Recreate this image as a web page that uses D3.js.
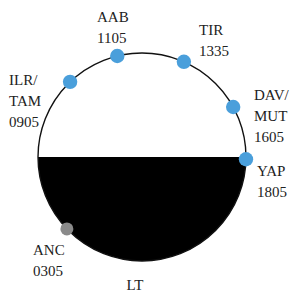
<!DOCTYPE html>
<html>
<head>
<meta charset="utf-8">
<script src="https://cdn.jsdelivr.net/npm/d3@7"></script>
<style>
  html, body { margin: 0; padding: 0; background: #fff; overflow: hidden; }
  text { font-family: "Liberation Serif", "DejaVu Serif", serif; font-size: 15px; fill: #222; }
</style>
</head>
<body>
<script>
// station codes, local time of observation (hhmm), and marker kind
var stations = ["ANC", "ILR/TAM", "AAB", "TIR", "DAV/MUT", "YAP"];
var localTimes = ["0305", "0905", "1105", "1335", "1605", "1805"];
var markerKind = ["grey", "blue", "blue", "blue", "blue", "blue"];
// night half of the clock (hours)
var nightSpan = [18, 30];
var axisLabel = "LT";

var W = 290, H = 296;
var CX = 142, CY = 157, R = 104;

var svg = d3.select("body").append("svg").attr("width", W).attr("height", H);
var g = svg.append("g").attr("transform", "translate(" + CX + "," + CY + ")");

// 24 h clock, noon at top, clockwise
var hourToAngle = d3.scaleLinear().domain([12, 36]).range([0, 2 * Math.PI]);

function hours(s) {
	return Number(s.slice(0, 2)) + Number(s.slice(2)) / 60;
}

// night half filled black
var arc = d3.arc().innerRadius(0).outerRadius(R);
g.append("path")
	.attr("d", arc({ startAngle: hourToAngle(nightSpan[0]), endAngle: hourToAngle(nightSpan[1]) }))
	.attr("fill", "#000");

g.append("circle")
	.attr("r", R)
	.attr("fill", "none")
	.attr("stroke", "#111")
	.attr("stroke-width", 1.4);

var data = stations.map(function (d, i) {
	var h = hours(localTimes[i]);
	if (h < 12) h += 24;
	return { name: d, time: localTimes[i], kind: markerKind[i], a: hourToAngle(h) };
});

g.selectAll("circle.stn")
	.data(data)
	.enter()
	.append("circle")
	.attr("class", "stn")
	.attr("cx", function (d) { return R * Math.sin(d.a); })
	.attr("cy", function (d) { return -R * Math.cos(d.a); })
	.attr("r", function (d) { return d.kind == "grey" ? 6.5 : 7.2; })
	.attr("fill", function (d) { return d.kind == "grey" ? "#8a8a8a" : "#4a9fdb"; });

// label placement (left x, first baseline) in page pixels
var labelPos = {
	"ANC": [33, 255],
	"ILR/TAM": [9, 85],
	"AAB": [97, 22],
	"TIR": [199, 35],
	"DAV/MUT": [254, 100],
	"YAP": [257, 176]
};

data.forEach(function (d) {
	var p = labelPos[d.name];
	var lines = d.name.indexOf("/") >= 0
		? [d.name.split("/")[0] + "/", d.name.split("/")[1], d.time]
		: [d.name, d.time];
	var t = svg.append("text").attr("x", p[0]).attr("y", p[1]);
	lines.forEach(function (l, j) {
		t.append("tspan").attr("x", p[0]).attr("dy", j == 0 ? 0 : 21).text(l);
	});
});

svg.append("text")
	.attr("x", 135)
	.attr("y", 290)
	.attr("text-anchor", "middle")
	.text(axisLabel);
</script>
</body>
</html>
